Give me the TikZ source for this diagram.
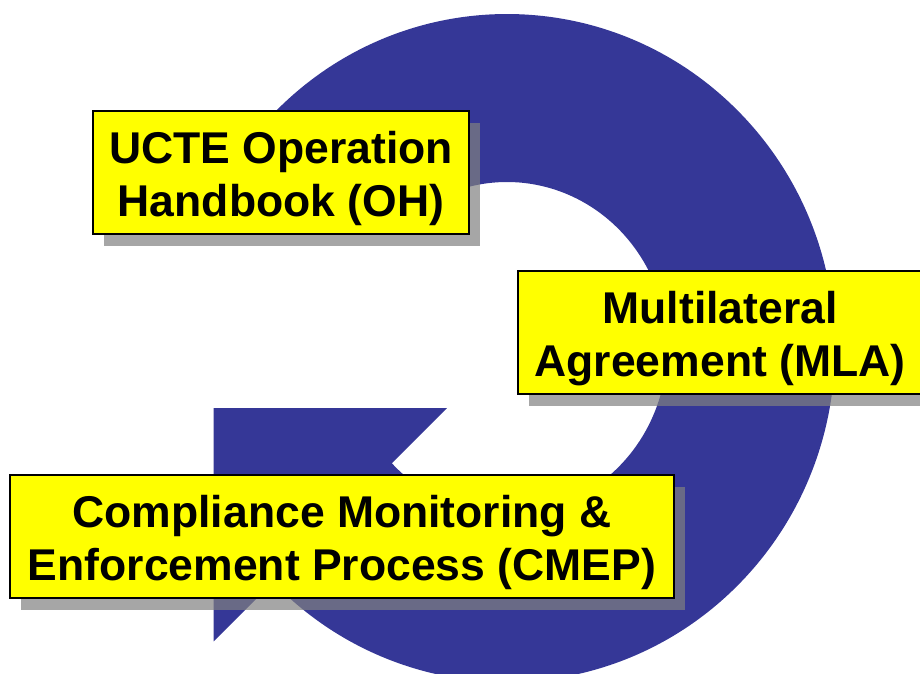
\documentclass[tikz,border=0pt]{standalone}
\usepackage{fontspec}
\setmainfont{Liberation Sans}
\usetikzlibrary{shadows}
\begin{document}
\begin{tikzpicture}[x=1pt,y=1pt,
  labelbox/.style={draw=black, line width=1.3pt, fill=colorlabel, align=center, inner sep=0pt,
    minimum height=123pt, font=\fontsize{44.5}{53}\selectfont\bfseries,
    drop shadow={shadow xshift=11pt, shadow yshift=-12pt, fill=black!50, opacity=.7}}]
% Define colors
\definecolor{colorcycle}{HTML}{353797}
\definecolor{colorlabel}{HTML}{FFFF00}
\useasboundingbox (0,0) rectangle (920,673);
  %%%%%%%%%% The cycle arrow
  \begin{scope}[shift={(507,325)}]
  % Ring
  \fill[colorcycle] (135.5:328 and 334) arc[start angle=135.5, end angle=-137, x radius=328, y radius=334]
    -- (-137:160 and 166) arc[start angle=-137, end angle=136, x radius=160, y radius=166] -- cycle;
  % Arrow head
  \fill[colorcycle] (-293.4,-60.1) -- (-60.1,-60.1) -- (-293.4,-293.4) -- cycle;
  \end{scope}
  %%%%%%%%%% The labels
  \node[labelbox, minimum width=376pt] (OH) at (281,500.5) {\rule{0pt}{44pt}UCTE Operation\\Handbook (OH)};
  \node[labelbox, minimum width=404pt] (MLA) at (720,340.5) {\rule{0pt}{44pt}Multilateral\\Agreement (MLA)};
  \node[labelbox, minimum width=664pt] (CMEP) at (342,136.5) {\rule{0pt}{44pt}Compliance Monitoring \&\\Enforcement Process (CMEP)};
\end{tikzpicture}
\end{document}
